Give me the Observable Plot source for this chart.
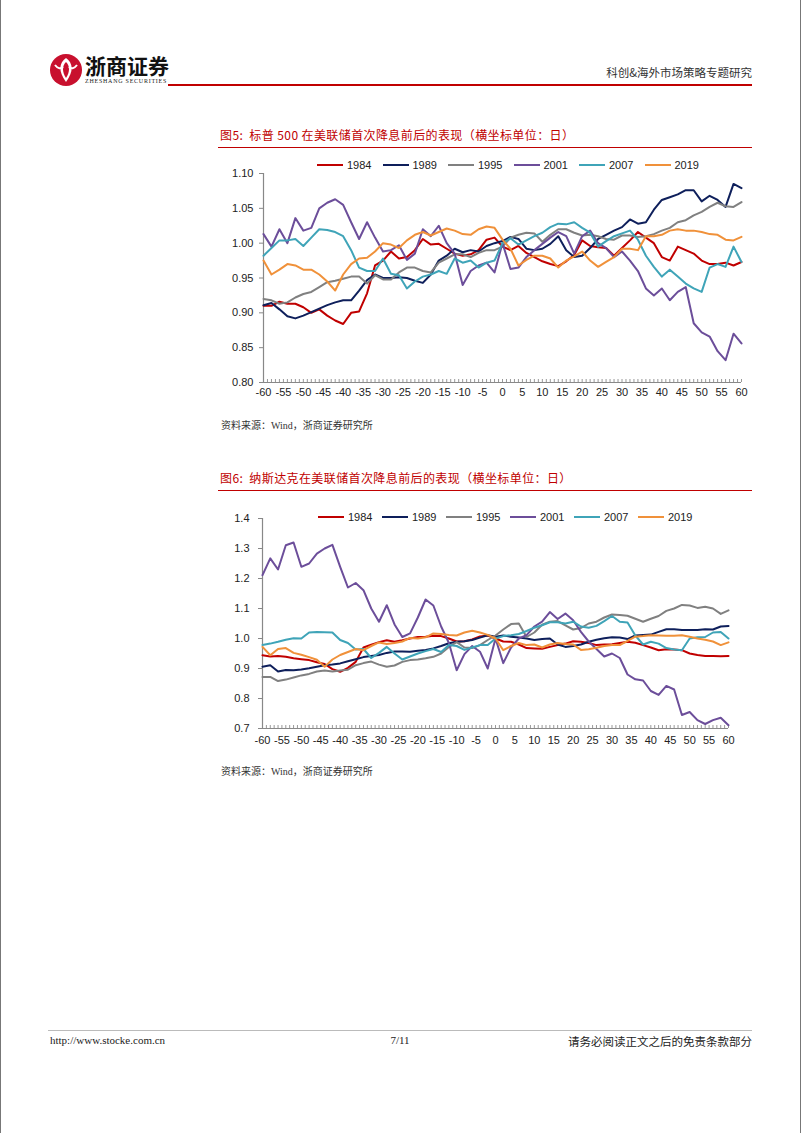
<!DOCTYPE html>
<html>
<head>
<meta charset="utf-8">
<script src="https://cdn.jsdelivr.net/npm/d3@7"></script>
<script src="https://cdn.jsdelivr.net/npm/@observablehq/plot@0.6"></script>
<style>
  body { margin: 0; background: #fff; }
  #page { position: relative; width: 802px; height: 1133px; background: #fff; overflow: hidden; }
  .abs { position: absolute; }
  .cjk { font-family: "Noto Sans CJK SC", "Liberation Serif", serif; }
  .title { color: #C00000; font-size: 12px; white-space: nowrap; letter-spacing: 0.4px; }
  .src { color: #333; font-size: 10px; white-space: nowrap; }
  .legend { display: flex; font-family: "Liberation Sans", Arial, sans-serif; font-size: 11px; color: #222; align-items: center; }
  .legend .item { display: flex; align-items: center; }
  .legend .sw { display: inline-block; width: 26px; height: 2px; margin-right: 4px; }
</style>
</head>
<body>
<div id="page">
  <div class="abs" style="left:0;top:0;width:1px;height:1133px;background:#777"></div>
  <div class="abs" style="left:800px;top:0;width:1px;height:1133px;background:#777"></div>

  <svg class="abs" style="left:49px;top:53px" width="34" height="34" viewBox="0 0 34 34">
    <circle cx="17" cy="17" r="16" fill="#C8102E"/>
    <path d="M17 5 C 10 10, 9 18, 17 29 C 25 18, 24 10, 17 5 Z" fill="#fff"/>
    <path d="M17 9 C 13 13, 13 19, 17 25 C 21 19, 21 13, 17 9 Z" fill="#C8102E"/>
    <path d="M6 12 C 9 16, 12 16, 14 14" stroke="#fff" stroke-width="2" fill="none"/>
    <path d="M28 12 C 25 16, 22 16, 20 14" stroke="#fff" stroke-width="2" fill="none"/>
  </svg>
  <div class="abs cjk" style="left:85px;top:50px;font-size:21px;font-weight:700;color:#111;letter-spacing:0px;">浙商证券</div>
  <div class="abs" style="left:85px;top:78px;font-size:6px;font-family:'Liberation Serif',serif;color:#222;letter-spacing:0.75px;">ZHESHANG SECURITIES</div>
  <div class="abs" style="left:168px;top:84px;width:584px;height:2px;background:#C00000"></div>
  <div class="abs cjk" style="right:50px;top:64px;font-size:11.5px;color:#333;">科创&amp;海外市场策略专题研究</div>

  <div class="abs cjk title" style="left:220px;top:126px;">图5:&nbsp; 标普 500 在美联储首次降息前后的表现（横坐标单位：日）</div>
  <div class="abs" style="left:218px;top:147px;width:534px;height:1px;background:#C00000"></div>
  <div id="chart1" class="abs" style="left:218px;top:155px;"></div>
  <div id="legend1" class="abs legend" style="left:317px;top:159px;"></div>
  <div class="abs cjk src" style="left:221px;top:417px;">资料来源：<span style="font-family:'Liberation Serif',serif">Wind</span>，浙商证券研究所</div>

  <div class="abs cjk title" style="left:220px;top:469px;">图6:&nbsp; 纳斯达克在美联储首次降息前后的表现（横坐标单位：日）</div>
  <div class="abs" style="left:218px;top:490px;width:534px;height:1px;background:#C00000"></div>
  <div id="chart2" class="abs" style="left:218px;top:500px;"></div>
  <div id="legend2" class="abs legend" style="left:318px;top:511px;"></div>
  <div class="abs cjk src" style="left:221px;top:763px;">资料来源：<span style="font-family:'Liberation Serif',serif">Wind</span>，浙商证券研究所</div>

  <div class="abs" style="left:48px;top:1030px;width:704px;height:1px;background:#bbb"></div>
  <div class="abs" style="left:50px;top:1034px;font-size:11px;font-family:'Liberation Serif',serif;color:#222;">http://www.stocke.com.cn</div>
  <div class="abs" style="left:380px;width:40px;text-align:center;top:1034px;font-size:11px;font-family:'Liberation Serif',serif;color:#222;">7/11</div>
  <div class="abs cjk" style="right:50px;top:1033px;font-size:11.5px;color:#222;">请务必阅读正文之后的免责条款部分</div>
</div>

<script>
// ---- categories ----
const days = d3.range(-60, 61, 2);
const allDays = d3.range(-60, 61, 1);
const labelDays = d3.range(-60, 61, 5);
const series = ["1984", "1989", "1995", "2001", "2007", "2019"];
const colors = ["#C00000", "#0E1F5B", "#808080", "#6C4E9A", "#3FA4B8", "#F0913A"];

// ---- S&P 500 (图5) ----
const spx1984 = [0.910,0.910,0.916,0.913,0.913,0.908,0.900,0.905,0.896,0.889,0.884,0.900,0.902,0.928,0.968,0.975,0.988,0.978,0.980,0.990,1.006,0.998,0.999,0.992,0.985,0.982,0.984,0.990,1.005,1.008,0.995,0.990,0.996,0.986,0.980,0.974,0.970,0.967,0.974,0.983,1.004,0.996,0.994,0.993,0.982,0.993,1.004,1.016,1.008,1.000,0.980,0.975,0.995,0.990,0.985,0.975,0.970,0.970,0.972,0.968,0.973];
const spx1989 = [0.911,0.914,0.905,0.895,0.892,0.896,0.901,0.906,0.911,0.915,0.918,0.918,0.932,0.947,0.955,0.950,0.950,0.951,0.950,0.946,0.943,0.955,0.975,0.982,0.992,0.987,0.990,0.988,0.996,1.000,1.003,1.009,1.006,0.992,0.990,0.992,0.999,1.010,0.990,0.980,0.982,0.993,1.006,1.012,1.018,1.023,1.034,1.028,1.030,1.048,1.062,1.066,1.070,1.076,1.076,1.060,1.068,1.062,1.052,1.085,1.079];
const spx1995 = [0.920,0.918,0.913,0.915,0.922,0.927,0.930,0.937,0.944,0.946,0.949,0.952,0.952,0.942,0.954,0.948,0.948,0.958,0.965,0.965,0.960,0.958,0.972,0.978,0.984,0.984,0.980,0.986,0.990,0.990,0.995,1.008,1.012,1.015,1.014,1.002,1.012,1.020,1.020,1.015,1.011,1.012,1.010,1.006,1.005,1.011,1.011,1.009,1.010,1.013,1.018,1.022,1.030,1.033,1.040,1.045,1.052,1.058,1.053,1.052,1.059];
const spx2001 = [1.013,0.995,1.020,1.000,1.036,1.018,1.022,1.050,1.058,1.063,1.055,1.030,1.006,1.030,1.008,0.988,0.990,0.997,0.976,0.985,1.020,1.010,1.025,1.000,0.985,0.940,0.960,0.968,0.972,0.958,1.000,0.963,0.965,0.980,0.990,0.999,1.008,1.016,1.010,0.985,1.010,1.018,1.000,0.993,0.980,0.988,0.975,0.960,0.935,0.925,0.935,0.918,0.930,0.937,0.885,0.872,0.866,0.845,0.832,0.870,0.856];
const spx2007 = [0.982,0.993,1.004,1.004,1.006,0.996,1.008,1.020,1.019,1.016,1.010,0.990,0.965,0.960,0.960,0.978,0.956,0.954,0.935,0.945,0.952,0.955,0.960,0.956,0.978,0.972,0.975,0.965,0.972,0.975,1.000,1.007,0.998,1.004,1.010,1.015,1.023,1.028,1.027,1.030,1.022,1.015,0.995,1.003,1.010,1.014,1.018,1.005,0.982,0.966,0.952,0.962,0.952,0.942,0.935,0.930,0.965,0.970,0.966,0.995,0.973];
const spx2019 = [0.975,0.955,0.962,0.970,0.968,0.962,0.962,0.955,0.945,0.932,0.955,0.970,0.978,0.979,0.988,1.000,0.998,0.993,1.004,1.012,1.016,1.011,1.016,1.021,1.018,1.013,1.012,1.020,1.024,1.022,1.005,0.992,0.968,0.976,0.982,0.982,0.978,0.965,0.975,0.981,0.988,0.975,0.966,0.973,0.980,0.992,0.992,0.990,1.010,1.010,1.012,1.018,1.020,1.018,1.018,1.016,1.013,1.012,1.005,1.004,1.009];

// ---- NASDAQ (图6) ----
const ndq1984 = [0.944,0.940,0.942,0.939,0.934,0.931,0.928,0.921,0.915,0.898,0.889,0.902,0.922,0.970,0.979,0.988,0.994,0.989,0.994,1.000,1.005,1.006,1.009,1.008,1.000,0.990,0.991,0.997,1.007,1.010,1.000,0.990,0.989,0.980,0.968,0.967,0.966,0.972,0.978,0.983,0.991,0.989,0.985,0.978,0.980,0.981,0.985,0.989,0.986,0.978,0.970,0.961,0.964,0.963,0.961,0.950,0.945,0.942,0.942,0.941,0.942];
const ndq1989 = [0.906,0.911,0.890,0.895,0.894,0.897,0.901,0.906,0.911,0.913,0.917,0.924,0.931,0.938,0.942,0.945,0.952,0.957,0.957,0.956,0.959,0.962,0.967,0.975,0.984,0.989,0.991,0.995,1.003,1.011,1.006,1.010,1.006,1.003,1.000,0.995,0.998,1.000,0.980,0.972,0.975,0.980,0.989,0.996,1.001,1.004,1.003,0.998,1.010,1.012,1.013,1.022,1.031,1.031,1.028,1.028,1.028,1.031,1.030,1.040,1.042];
const ndq1995 = [0.872,0.872,0.858,0.863,0.870,0.877,0.882,0.890,0.893,0.890,0.893,0.896,0.911,0.918,0.923,0.913,0.906,0.910,0.922,0.928,0.930,0.934,0.939,0.950,0.972,0.988,0.970,0.968,0.978,0.995,1.010,1.030,1.048,1.050,1.005,1.020,1.046,1.056,1.058,1.044,1.030,1.035,1.050,1.056,1.070,1.080,1.078,1.076,1.066,1.056,1.066,1.075,1.092,1.100,1.112,1.110,1.102,1.106,1.100,1.082,1.094];
const ndq2001 = [1.211,1.267,1.230,1.311,1.320,1.239,1.250,1.283,1.300,1.312,1.239,1.170,1.185,1.161,1.100,1.056,1.111,1.047,1.005,1.017,1.070,1.130,1.110,1.040,0.985,0.894,0.948,0.975,0.956,0.900,1.000,0.918,0.970,1.000,1.011,1.040,1.056,1.088,1.065,1.083,1.061,1.022,0.990,0.965,0.940,0.950,0.935,0.880,0.864,0.860,0.825,0.812,0.842,0.830,0.745,0.755,0.728,0.715,0.728,0.736,0.711];
const ndq2007 = [0.978,0.983,0.989,0.996,1.001,1.000,1.020,1.022,1.021,1.020,0.995,0.985,0.963,0.965,0.935,0.952,0.972,0.950,0.930,0.940,0.950,0.958,0.965,0.955,0.978,0.975,0.962,0.970,0.978,0.978,1.000,1.008,1.011,1.015,1.025,1.036,1.044,1.054,1.054,1.050,1.056,1.040,1.036,1.042,1.058,1.075,1.056,1.053,1.010,0.980,0.989,0.983,0.968,0.963,0.961,1.000,1.004,1.005,1.020,1.022,1.000];
const ndq2019 = [0.972,0.944,0.965,0.968,0.952,0.946,0.938,0.929,0.906,0.930,0.945,0.955,0.965,0.961,0.975,0.987,0.982,0.985,0.990,1.002,1.000,1.004,1.017,1.015,1.012,1.010,1.020,1.026,1.020,1.012,1.000,0.961,0.975,0.985,0.978,0.980,0.970,0.980,0.985,0.982,0.980,0.962,0.964,0.969,0.975,0.978,0.978,0.992,1.006,1.008,1.011,1.010,1.009,1.009,1.011,1.006,1.000,0.996,0.990,0.978,0.987];

// ---- axis ticks ----
const spxTicks = [0.80, 0.85, 0.90, 0.95, 1.00, 1.05, 1.10];
const ndqTicks = [0.7, 0.8, 0.9, 1.0, 1.1, 1.2, 1.3, 1.4];

function rows(arrays) {
  return series.flatMap((s, i) => arrays[i].map((v, j) => ({day: days[j], value: v, series: s})));
}

function chart({data, yDomain, yTicks, yFormat, width, height, mL, mR, mT, mB, xPad, yPad}) {
  return Plot.plot({
    width, height,
    marginLeft: mL, marginRight: mR, marginTop: mT, marginBottom: mB,
    style: {fontFamily: "'Liberation Sans', Arial, sans-serif", fontSize: "11px", color: "#222", background: "transparent", overflow: "visible"},
    x: {domain: [-60, 60]},
    y: {domain: yDomain},
    color: {domain: series, range: colors},
    marks: [
      Plot.axisY({ticks: yTicks, tickFormat: d3.format(yFormat), tickSize: 4, tickPadding: yPad, stroke: "#888", label: null}),
      Plot.axisX({ticks: labelDays, tickFormat: d => String(d), tickSize: 0, tickPadding: xPad, label: null}),
      Plot.ruleX(allDays, {y1: yDomain[0], y2: yDomain[0], insetTop: -3, stroke: "#999", strokeWidth: 1}),
      Plot.ruleX([-60], {stroke: "#888", strokeWidth: 1.2}),
      Plot.ruleY([yDomain[0]], {stroke: "#888", strokeWidth: 1.2}),
      Plot.line(data, {x: "day", y: "value", z: "series", stroke: "series", strokeWidth: 2, curve: "linear"})
    ]
  });
}

document.getElementById("chart1").appendChild(chart({
  data: rows([spx1984, spx1989, spx1995, spx2001, spx2007, spx2019]),
  yDomain: [0.80, 1.10], yTicks: spxTicks, yFormat: ".2f",
  width: 534, height: 250, mL: 45, mR: 11, mT: 18, mB: 23, xPad: 6, yPad: 6
}));

document.getElementById("chart2").appendChild(chart({
  data: rows([ndq1984, ndq1989, ndq1995, ndq2001, ndq2007, ndq2019]),
  yDomain: [0.7, 1.4], yTicks: ndqTicks, yFormat: ".1f",
  width: 534, height: 255, mL: 44, mR: 24, mT: 18, mB: 27, xPad: 8, yPad: 9
}));

function legend(id, step) {
  const el = document.getElementById(id);
  series.forEach((s, i) => {
    const item = document.createElement("div");
    item.className = "item";
    item.style.width = step + "px";
    item.innerHTML = `<span class="sw" style="background:${colors[i]}"></span><span>${s}</span>`;
    el.appendChild(item);
  });
}
legend("legend1", 65.5);
legend("legend2", 64);
</script>
</body>
</html>
